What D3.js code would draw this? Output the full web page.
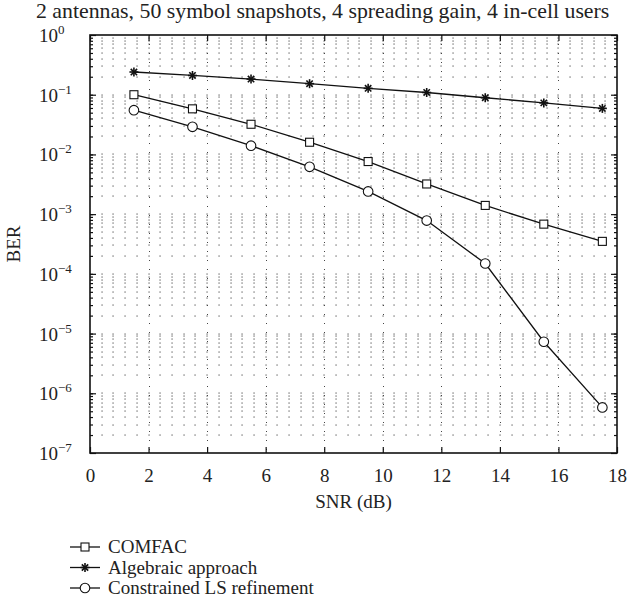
<!DOCTYPE html>
<html><head><meta charset="utf-8">
<script src="https://cdn.jsdelivr.net/npm/d3@7"></script>
<style>
body{margin:0;background:#fff;}
</style></head>
<body>
<svg id="c" width="627" height="615" style="font-family:'Liberation Serif','Times New Roman','DejaVu Serif',serif"></svg>
<script>
const snr = [1.5, 3.5, 5.5, 7.5, 9.5, 11.5, 13.5, 15.5, 17.5];
const comfac = [0.100, 0.058, 0.032, 0.016, 0.0076, 0.0032, 0.0014, 0.00068, 0.00035];
const algebraic = [0.24, 0.21, 0.183, 0.153, 0.128, 0.109, 0.089, 0.073, 0.059];
const constrained = [0.055, 0.029, 0.014, 0.0062, 0.0024, 0.00078, 0.000149, 0.0000073, 0.00000058];
const xTicks = [0, 2, 4, 6, 8, 10, 12, 14, 16, 18];
const yExps = [0, -1, -2, -3, -4, -5, -6, -7];
const seriesNames = ["COMFAC", "Algebraic approach", "Constrained LS refinement"];
const seriesMarkers = ["square", "star", "circle"];
const title = "2 antennas, 50 symbol snapshots, 4 spreading gain, 4 in-cell users";

const FONT = "'Liberation Serif','Times New Roman','DejaVu Serif',serif";
const svg = d3.select("#c");
const L = 90, R = 617, T = 35, B = 453;
const x = d3.scaleLinear().domain([0, 18]).range([L, R]);
const y = d3.scaleLog().domain([1e-7, 1]).range([B, T]);

const xGrid = d3.range(0, 18.001, 0.4).map(v => +v.toFixed(2)).filter(v => v > 0 && v < 18);
const yGrid = [];
for (let e = -7; e < 0; e++) for (let m = 1; m <= 9; m++) { const v = m * Math.pow(10, e); if (v > 1e-7 && v < 1) yGrid.push(v); }

const g = svg.append("g");
const pts = [];
xGrid.forEach(xv => yGrid.forEach(yv => pts.push([xv, yv])));
g.selectAll("rect.dot").data(pts).join("rect").attr("class", "dot")
  .attr("x", d => Math.round(x(d[0])) - 0.5).attr("y", d => Math.round(y(d[1])) - 0.5)
  .attr("width", 1.1).attr("height", 1.1).attr("fill", "#444");
g.selectAll("line.vmaj").data(xTicks.filter(v => v > 0 && v < 18)).join("line").attr("class", "vmaj")
  .attr("x1", d => Math.round(x(d)) + 0.5).attr("x2", d => Math.round(x(d)) + 0.5)
  .attr("y1", T).attr("y2", B).attr("stroke", "#444").attr("stroke-width", 1)
  .attr("stroke-dasharray", "1,8");

const tickLen = 6, minorLen = 3;
const xb = svg.append("g").attr("transform", `translate(0,${B})`)
  .call(d3.axisBottom(x).tickValues(xTicks).tickSizeInner(-tickLen).tickSizeOuter(0).tickPadding(16).tickFormat(d3.format("d")));
svg.append("g").attr("transform", `translate(0,${T})`)
  .call(d3.axisTop(x).tickValues(xTicks).tickSizeInner(-tickLen).tickSizeOuter(0).tickFormat(""));
svg.append("g").attr("transform", `translate(${L},0)`)
  .call(d3.axisLeft(y).tickValues(yGrid).tickSizeInner(-minorLen).tickSizeOuter(0).tickFormat(""));
svg.append("g").attr("transform", `translate(${L},0)`)
  .call(d3.axisLeft(y).tickValues(yExps.map(e => Math.pow(10, e))).tickSizeInner(-tickLen).tickSizeOuter(0).tickFormat(""));
svg.append("g").attr("transform", `translate(${R},0)`)
  .call(d3.axisRight(y).tickValues(yGrid).tickSizeInner(-minorLen).tickSizeOuter(0).tickFormat(""));
svg.append("g").attr("transform", `translate(${R},0)`)
  .call(d3.axisRight(y).tickValues(yExps.map(e => Math.pow(10, e))).tickSizeInner(-tickLen).tickSizeOuter(0).tickFormat(""));
svg.selectAll(".domain").remove();
svg.selectAll(".tick line").attr("stroke", "#111").attr("stroke-width", 1.2);
svg.selectAll("g").attr("font-family", null);
xb.selectAll("text").attr("font-size", 19).attr("fill", "#222").style("font-family", FONT);

const yLab = svg.append("g");
yExps.forEach(e => {
  const t = yLab.append("text").attr("x", 39).attr("y", y(Math.pow(10, e)) + 7)
    .attr("font-size", 19).attr("fill", "#222").style("font-family", FONT);
  t.append("tspan").text("10");
  t.append("tspan").attr("font-size", 13).attr("dy", -8).text(e === 0 ? "0" : "\u2212" + Math.abs(e));
});

svg.append("rect").attr("x", L).attr("y", T).attr("width", R - L).attr("height", B - T)
  .attr("fill", "none").attr("stroke", "#111").attr("stroke-width", 1.6);

const data = [comfac, algebraic, constrained];
const line = d3.line().x((d, i) => x(snr[i])).y(d => y(d));
function marker(sel, type, cx, cy) {
  if (type === "square") {
    sel.append("rect").attr("x", cx - 4).attr("y", cy - 4).attr("width", 8).attr("height", 8)
      .attr("fill", "#fff").attr("stroke", "#111").attr("stroke-width", 1.1);
  } else if (type === "circle") {
    sel.append("circle").attr("cx", cx).attr("cy", cy).attr("r", 4.8)
      .attr("fill", "#fff").attr("stroke", "#111").attr("stroke-width", 1.1);
  } else {
    const r = 4.5;
    [0, 45, 90, 135].forEach(a => {
      const rad = a * Math.PI / 180;
      sel.append("line").attr("x1", cx - r * Math.cos(rad)).attr("y1", cy - r * Math.sin(rad))
        .attr("x2", cx + r * Math.cos(rad)).attr("y2", cy + r * Math.sin(rad))
        .attr("stroke", "#111").attr("stroke-width", 1.6);
    });
  }
}
data.forEach((arr, k) => {
  const sg = svg.append("g");
  sg.append("path").datum(arr).attr("d", line).attr("fill", "none").attr("stroke", "#111").attr("stroke-width", 1.3);
  arr.forEach((v, i) => marker(sg, seriesMarkers[k], x(snr[i]), y(v)));
});

function txt(sel) { return sel.attr("fill", "#222").style("font-family", FONT); }
txt(svg.append("text").attr("x", 36).attr("y", 18).attr("font-size", 21.8).text(title));
txt(svg.append("text").attr("x", (L + R) / 2).attr("y", 508).attr("text-anchor", "middle").attr("font-size", 19).text("SNR (dB)"));
txt(svg.append("text").attr("transform", `translate(20,${(T + B) / 2}) rotate(-90)`).attr("text-anchor", "middle").attr("font-size", 19).text("BER"));

const lg = svg.append("g");
seriesNames.forEach((n, k) => {
  const cy = 547 + k * 20.5;
  lg.append("line").attr("x1", 70).attr("x2", 100).attr("y1", cy).attr("y2", cy).attr("stroke", "#111").attr("stroke-width", 1.3);
  marker(lg, seriesMarkers[k], 85, cy);
  txt(lg.append("text").attr("x", 108).attr("y", cy + 6).attr("font-size", 19).text(n));
});
</script>
</body></html>
